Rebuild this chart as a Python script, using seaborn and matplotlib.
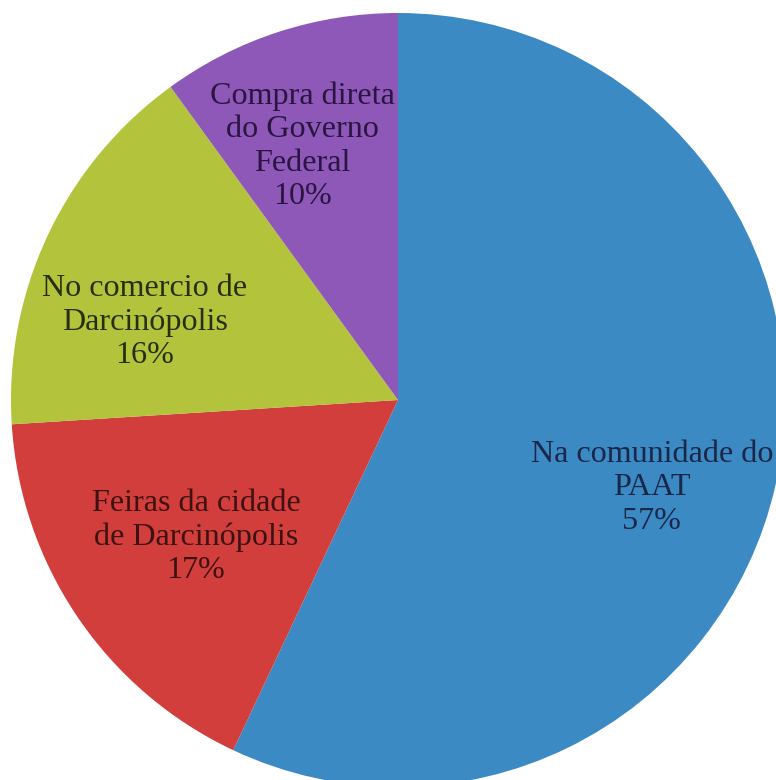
import matplotlib
matplotlib.use("Agg")
import matplotlib.pyplot as plt
import seaborn as sns

# Onde os produtos são comercializados (participação, %)
categorias = [
    "Na comunidade do\nPAAT",
    "Feiras da cidade\nde Darcinópolis",
    "No comercio de\nDarcinópolis",
    "Compra direta\ndo Governo\nFederal",
]
percentuais = [57, 17, 16, 10]

cores = ["#3B8AC4", "#D13E3B", "#B4C33C", "#8D58B7"]
cores_texto = ["#1B2748", "#3E1212", "#26300E", "#2A1440"]
# label anchor (x, y) in pie-radius units
pos_rotulos = [(0.656, -0.227), (-0.522, -0.354), (-0.654, 0.202), (-0.248, 0.656)]

sns.set_theme(style="white")
plt.rcParams["font.family"] = ["Liberation Serif", "DejaVu Serif"]

fig = plt.figure(figsize=(7.76, 7.80), dpi=100)
ax = fig.add_axes([11 / 776, -7 / 780, 774 / 776, 774 / 780])

wedges, _ = ax.pie(
    percentuais,
    colors=cores,
    startangle=90,
    counterclock=False,
    radius=1.0,
    wedgeprops=dict(linewidth=0, antialiased=True),
)

for cat, val, (x, y), tc in zip(categorias, percentuais, pos_rotulos, cores_texto):
    ax.text(x, y, f"{cat}\n{val}%", ha="center", va="center",
            fontsize=23.1, color=tc, linespacing=1.2)

ax.set_xlim(-1, 1)
ax.set_ylim(-1, 1)
ax.set_aspect("equal")
ax.axis("off")

fig.savefig("out.png", dpi=100)
